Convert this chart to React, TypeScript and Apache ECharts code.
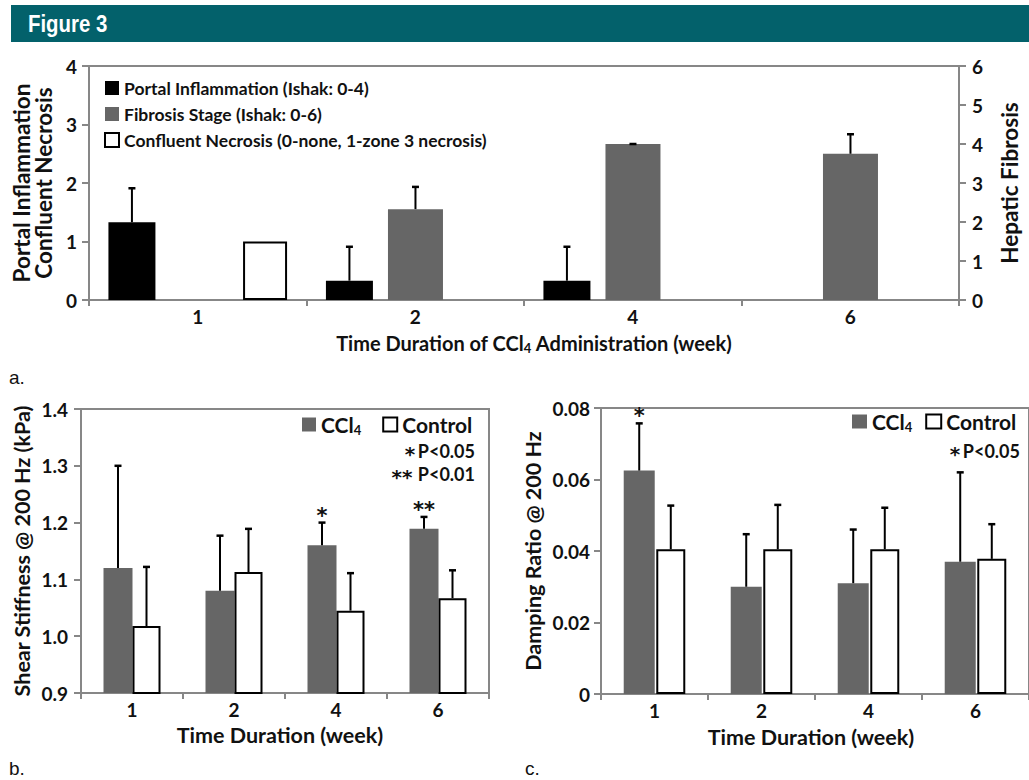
import React, { useEffect, useRef } from 'react';
import * as echarts from 'echarts';

// ---------- data ----------
const weeks = ['1', '2', '4', '6'];

// Panel a (histology scores)
const portalInflammation: (number | null)[] = [1.33, 0.33, 0.33, null];
const portalInflammationErr: (number | null)[] = [0.58, 0.58, 0.58, null];
const fibrosisStage: (number | null)[] = [null, 2.33, 4.0, 3.75];
const fibrosisStageErr: (number | null)[] = [null, 0.57, 0, 0.5];
const confluentNecrosis: (number | null)[] = [1, null, null, null];

// Panel b (shear stiffness, kPa)
const stiffnessCCl4 = [1.12, 1.08, 1.16, 1.189];
const stiffnessCCl4Err = [0.18, 0.097, 0.04, 0.021];
const stiffnessControl = [1.018, 1.113, 1.045, 1.067];
const stiffnessControlErr = [0.104, 0.076, 0.066, 0.049];
const stiffnessSig = ['', '', '*', '**'];

// Panel c (damping ratio)
const dampingCCl4 = [0.0625, 0.03, 0.031, 0.037];
const dampingCCl4Err = [0.0132, 0.0147, 0.015, 0.025];
const dampingControl = [0.0405, 0.0405, 0.0405, 0.0378];
const dampingControlErr = [0.0122, 0.0124, 0.0116, 0.0097];
const dampingSig = ['*', '', '', ''];

const axisALeftTicks = { min: 0, max: 4, interval: 1 };
const axisARightTicks = { min: 0, max: 6, interval: 1 };
const axisBTicks = { min: 0.9, max: 1.4, interval: 0.1 };
const axisCTicks = { min: 0, max: 0.08, interval: 0.02 };

// ---------- styles ----------
const FONT = 'Lato, "Open Sans", sans-serif';
const STAR_FONT = '"DejaVu Sans", sans-serif';
const AXIS_COLOR = '#878787';
const GRAY = '#666666';
const TEXT = '#111111';

function barOffsets(widths: number[], gap: number) {
  const total = widths.reduce((s, w) => s + w * (1 + gap), 0) - widths[widths.length - 1] * gap;
  let off = -total / 2;
  return widths.map((w) => {
    const c = off + w / 2;
    off += w * (1 + gap);
    return c;
  });
}

const A_WIDTHS = [47, 55, 44];
const A_GAP = 0.32;
const A_OFF = barOffsets(A_WIDTHS, A_GAP);
const B_WIDTHS = [29, 28];
const B_OFF = barOffsets(B_WIDTHS, 0);
const C_WIDTHS = [31, 29];
const C_OFF = barOffsets(C_WIDTHS, 0.05);

function errorBars(
  xAxisIndex: number,
  yAxisIndex: number,
  values: (number | null)[],
  errs: (number | null)[],
  offset: number,
  sig?: string[]
) {
  return {
    type: 'custom',
    xAxisIndex,
    yAxisIndex,
    z: 5,
    silent: true,
    clip: false,
    encode: { x: 0, y: 1 },
    data: values.map((v, i) => [i, v == null ? 0 : v, errs[i] == null ? 0 : errs[i]]),
    renderItem: (params: any, api: any) => {
      const i = params.dataIndex;
      const v = values[i];
      const e = errs[i];
      const children: any[] = [];
      if (v != null && e != null) {
        const p0 = api.coord([i, v]);
        const p1 = api.coord([i, v + e]);
        const x = p0[0] + offset;
        children.push({
          type: 'line',
          shape: { x1: x, y1: p0[1], x2: x, y2: p1[1] },
          style: { stroke: '#000', lineWidth: 2 },
        });
        children.push({
          type: 'line',
          shape: { x1: x - 3.5, y1: p1[1], x2: x + 3.5, y2: p1[1] },
          style: { stroke: '#000', lineWidth: 2.5 },
        });
        if (sig && sig[i]) {
          children.push({
            type: 'text',
            style: {
              text: sig[i],
              x,
              y: p1[1] - 7,
              align: 'center',
              verticalAlign: 'middle',
              fontSize: 21,
              fontWeight: 'bold',
              fontFamily: STAR_FONT,
              fill: TEXT,
            },
          });
        }
      }
      return { type: 'group', children };
    },
  };
}

const axisLine = { show: true, lineStyle: { color: AXIS_COLOR, width: 2 } };
const axisTick = { show: true, length: 7, lineStyle: { color: AXIS_COLOR, width: 2 } };
const labelStyle = { color: TEXT, fontFamily: FONT, fontWeight: 'bold' as const, fontSize: 19 };
const nameStyle = { color: TEXT, fontFamily: FONT, fontWeight: 'bold' as const, fontSize: 21.5 };

function richSub(size: number) {
  return {
    t: { fontFamily: FONT, fontWeight: 'bold', fontSize: size, color: TEXT, lineHeight: 24 },
    s: { fontFamily: FONT, fontWeight: 'bold', fontSize: 13, color: TEXT, lineHeight: 14, padding: [10, 0, 0, 0] },
  };
}

function catAxis(gridIndex: number, name: string, nameGap: number, nameSize: number, namePad: number[]) {
  return {
    type: 'category',
    gridIndex,
    data: weeks,
    boundaryGap: true,
    axisLine,
    axisTick: { ...axisTick, length: 6 },
    axisLabel: { ...labelStyle, margin: 7 },
    name,
    nameLocation: 'middle',
    nameGap,
    nameTextStyle: { ...nameStyle, fontSize: nameSize, padding: namePad, rich: richSub(nameSize) },
    splitLine: { show: false },
  };
}

function statText(x: number, y: number, stars: string, starX: number, p: string) {
  return [
    {
      type: 'text', x: starX, y: y + 3,
      style: { text: stars, fill: TEXT, fontSize: 20, fontWeight: 'bold', fontFamily: STAR_FONT, align: 'center', verticalAlign: 'middle' },
    },
    {
      type: 'text', x, y,
      style: { text: p, fill: TEXT, fontSize: 18, fontWeight: 'bold', fontFamily: FONT, align: 'right', verticalAlign: 'middle' },
    },
  ];
}

export default function App() {
  const ref = useRef<HTMLDivElement>(null);
  useEffect(() => {
    if (!ref.current) return;
    const chart = echarts.init(ref.current, undefined, { renderer: 'svg' });
    const legendText = {
      fontFamily: FONT,
      fontWeight: 'bold',
      fontSize: 21,
      color: TEXT,
      rich: {
        t: { fontFamily: FONT, fontWeight: 'bold', fontSize: 21, color: TEXT, lineHeight: 22 },
        s: { fontFamily: FONT, fontWeight: 'bold', fontSize: 13, color: TEXT, lineHeight: 12, padding: [10, 0, 0, 0] },
      },
    };
    const legendFmt = (n: string) => (n === 'CCl4' ? '{t|CCl}{s|4}' : '{t|' + n + '}');
    const option: any = {
      animation: false,
      backgroundColor: '#ffffff',
      grid: [
        { left: 89, top: 66, width: 891, height: 234, show: true, borderColor: AXIS_COLOR, borderWidth: 2, backgroundColor: 'transparent' },
        { left: 81, top: 409, width: 408, height: 284, show: true, borderColor: AXIS_COLOR, borderWidth: 2, backgroundColor: 'transparent' },
        { left: 601, top: 408, width: 432, height: 286, show: true, borderColor: AXIS_COLOR, borderWidth: 2, backgroundColor: 'transparent' },
      ],
      xAxis: [
        catAxis(0, '{t|Time Duration of CCl}{s|4}{t| Administration (week)}', 31, 20, [0, 0, 0, 20]),
        catAxis(1, '{t|Time Duration (week)}', 30, 21.5, [0, 10, 0, 0]),
        catAxis(2, '{t|Time Duration (week)}', 31, 21.5, [0, 8, 0, 0]),
      ],
      yAxis: [
        {
          type: 'value', gridIndex: 0, ...axisALeftTicks,
          axisLine, axisTick, splitLine: { show: false },
          axisLabel: { ...labelStyle, margin: 12 },
          name: 'Portal Inflammation\nConfluent Necrosis', nameLocation: 'middle', nameGap: 34,
          nameTextStyle: { ...nameStyle, fontSize: 22.5, lineHeight: 22 },
        },
        {
          type: 'value', gridIndex: 0, position: 'right', ...axisARightTicks,
          axisLine, axisTick, splitLine: { show: false },
          axisLabel: { ...labelStyle, margin: 13 },
          name: 'Hepatic Fibrosis', nameLocation: 'middle', nameGap: 39,
          nameTextStyle: { ...nameStyle, fontSize: 22.5 },
        },
        {
          type: 'value', gridIndex: 1, ...axisBTicks,
          axisLine, axisTick, splitLine: { show: false },
          axisLabel: { ...labelStyle, margin: 13, formatter: (v: number) => v.toFixed(1) },
          name: 'Shear Stiffness @ 200 Hz (kPa)', nameLocation: 'middle', nameGap: 48,
          nameTextStyle: { ...nameStyle },
        },
        {
          type: 'value', gridIndex: 2, ...axisCTicks,
          axisLine, axisTick, splitLine: { show: false },
          axisLabel: { ...labelStyle, margin: 11, formatter: (v: number) => (v === 0 ? '0' : v.toFixed(2)) },
          name: 'Damping Ratio @ 200 Hz', nameLocation: 'middle', nameGap: 57,
          nameTextStyle: { ...nameStyle },
        },
      ],
      legend: [
        {
          orient: 'vertical', left: 104, top: 78, padding: 0, itemWidth: 14, itemHeight: 14, itemGap: 6,
          icon: 'rect', selectedMode: false,
          data: ['Portal Inflammation (Ishak: 0-4)', 'Fibrosis Stage (Ishak: 0-6)', 'Confluent Necrosis (0-none, 1-zone 3 necrosis)'],
          textStyle: { fontFamily: FONT, fontWeight: 'bold', fontSize: 17.5, color: TEXT, lineHeight: 20 },
        },
        {
          orient: 'horizontal', left: 302, top: 413, padding: 0, itemWidth: 14, itemHeight: 14, itemGap: 21,
          icon: 'rect', selectedMode: false, data: ['CCl4', 'Control'],
          formatter: legendFmt, textStyle: legendText,
        },
        {
          orient: 'horizontal', left: 852, top: 410, padding: 0, itemWidth: 15, itemHeight: 14, itemGap: 13,
          icon: 'rect', selectedMode: false, data: ['CCl4', 'Control'],
          formatter: legendFmt, textStyle: legendText,
        },
      ],
      series: [
        // panel a
        {
          type: 'bar', name: 'Portal Inflammation (Ishak: 0-4)', xAxisIndex: 0, yAxisIndex: 0,
          data: portalInflammation.map((v) => (v == null ? '-' : v)),
          barWidth: A_WIDTHS[0], barGap: A_GAP * 100 + '%', itemStyle: { color: '#000' },
        },
        {
          type: 'bar', name: 'Fibrosis Stage (Ishak: 0-6)', xAxisIndex: 0, yAxisIndex: 1,
          data: fibrosisStage.map((v) => (v == null ? '-' : v)),
          barWidth: A_WIDTHS[1], barGap: A_GAP * 100 + '%', itemStyle: { color: GRAY },
        },
        {
          type: 'bar', name: 'Confluent Necrosis (0-none, 1-zone 3 necrosis)', xAxisIndex: 0, yAxisIndex: 0,
          data: confluentNecrosis.map((v) => (v == null ? '-' : v)),
          barWidth: A_WIDTHS[2], barGap: A_GAP * 100 + '%',
          itemStyle: { color: '#fff', borderColor: '#000', borderWidth: 2 },
        },
        errorBars(0, 0, portalInflammation, portalInflammationErr, A_OFF[0]),
        errorBars(0, 1, fibrosisStage, fibrosisStageErr, A_OFF[1]),
        // panel b
        {
          type: 'bar', name: 'CCl4', xAxisIndex: 1, yAxisIndex: 2, data: stiffnessCCl4,
          barWidth: B_WIDTHS[0], barGap: '0%', itemStyle: { color: GRAY },
        },
        {
          type: 'bar', name: 'Control', xAxisIndex: 1, yAxisIndex: 2, data: stiffnessControl,
          barWidth: B_WIDTHS[1], barGap: '0%',
          itemStyle: { color: '#fff', borderColor: '#000', borderWidth: 2 },
        },
        errorBars(1, 2, stiffnessCCl4, stiffnessCCl4Err, B_OFF[0], stiffnessSig),
        errorBars(1, 2, stiffnessControl, stiffnessControlErr, B_OFF[1]),
        // panel c
        {
          type: 'bar', name: 'CCl4', xAxisIndex: 2, yAxisIndex: 3, data: dampingCCl4,
          barWidth: C_WIDTHS[0], barGap: '5%', itemStyle: { color: GRAY },
        },
        {
          type: 'bar', name: 'Control', xAxisIndex: 2, yAxisIndex: 3, data: dampingControl,
          barWidth: C_WIDTHS[1], barGap: '5%',
          itemStyle: { color: '#fff', borderColor: '#000', borderWidth: 2 },
        },
        errorBars(2, 3, dampingCCl4, dampingCCl4Err, C_OFF[0], dampingSig),
        errorBars(2, 3, dampingControl, dampingControlErr, C_OFF[1]),
      ],
      graphic: [
        { type: 'rect', z: 10, shape: { x: 11, y: 5, width: 1018, height: 37 }, style: { fill: '#03616b' } },
        {
          type: 'text', z: 11, x: 28, y: 24, scaleX: 0.85,
          style: {
            text: 'Figure 3', fill: '#ffffff', fontSize: 24, fontWeight: 'bold',
            fontFamily: '"Liberation Sans", Arial, sans-serif',
            verticalAlign: 'middle', align: 'left',
          },
        },
        { type: 'text', x: 9, y: 377, style: { text: 'a.', fill: TEXT, fontSize: 19, fontFamily: '"Liberation Sans", sans-serif', verticalAlign: 'middle' } },
        { type: 'text', x: 9, y: 768, style: { text: 'b.', fill: TEXT, fontSize: 19, fontFamily: '"Liberation Sans", sans-serif', verticalAlign: 'middle' } },
        { type: 'text', x: 525, y: 768, style: { text: 'c.', fill: TEXT, fontSize: 19, fontFamily: '"Liberation Sans", sans-serif', verticalAlign: 'middle' } },
        ...statText(475, 451, '*', 410, 'P<0.05'),
        ...statText(475, 474, '**', 402, 'P<0.01'),
        ...statText(1020, 451, '*', 955, 'P<0.05'),
      ],
    };
    chart.setOption(option);
    return () => chart.dispose();
  }, []);
  return (
    <div
      ref={ref}
      style={{ position: 'absolute', left: 0, top: 0, width: 1029, height: 780, background: '#fff' }}
    />
  );
}
